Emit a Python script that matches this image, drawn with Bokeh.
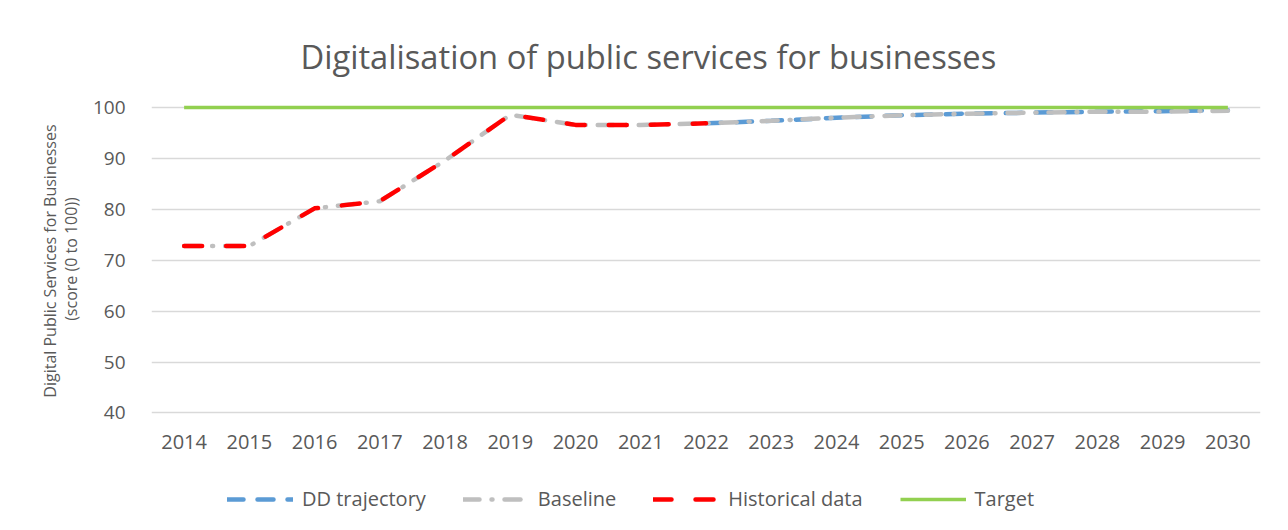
from bokeh.plotting import figure
from bokeh.models import Range1d, Legend, LegendItem, FixedTicker
from bokeh.layouts import column
from bokeh.embed import file_html
from bokeh.resources import INLINE

years = [str(y) for y in range(2014, 2031)]
hist_years = years[:9]
hist_vals = [72.8, 72.8, 80.2, 81.6, 89.6, 98.6, 96.6, 96.6, 96.9]
base_vals = hist_vals + [97.4, 98.0, 98.5, 98.8, 99.0, 99.2, 99.2, 99.4]
dd_years = years[8:]
dd_vals = [96.9, 97.4, 98.0, 98.5, 98.8, 99.0, 99.2, 99.3, 99.5]
target_vals = [100] * len(years)
series_labels = ["DD trajectory", "Baseline", "Historical data", "Target"]

FONT = "Open Sans"
TXT = "#595959"

STYLES = [
    dict(line_color="#5B9BD5", line_width=4.5, line_dash="16 14", line_cap="round"),
    dict(line_color="#BFBFBF", line_width=4.5, line_dash="16 12 1 12", line_cap="round"),
    dict(line_color="#FF0000", line_width=4.5, line_dash="18 24", line_cap="round"),
    dict(line_color="#92D050", line_width=3.5),
]

p = figure(x_range=years, y_range=Range1d(39.5, 101), frame_width=1109, frame_height=313,
           output_backend="svg", toolbar_location=None,
           min_border_left=151, min_border_right=20, min_border_top=102, min_border_bottom=60)
p.outline_line_color = None
p.background_fill_color = "white"
p.border_fill_color = "white"

p.title.text = "Digitalisation of public services for businesses"
p.title.align = "left"
p.title.offset = 149
p.title.text_font = FONT
p.title.text_font_size = "32.7px"
p.title.text_font_style = "normal"
p.title.text_color = TXT
p.title.standoff = 47

p.line(dd_years, dd_vals, **STYLES[0])
p.line(years, base_vals, **STYLES[1])
p.line(hist_years, hist_vals, **STYLES[2])
p.line(years, target_vals, **STYLES[3])

p.yaxis.ticker = FixedTicker(ticks=[40, 50, 60, 70, 80, 90, 100])
for ax in (p.xaxis[0], p.yaxis[0]):
    ax.axis_line_color = None
    ax.major_tick_line_color = None
    ax.minor_tick_line_color = None
    ax.major_label_text_font = FONT
    ax.major_label_text_color = TXT
p.xaxis.major_label_text_font_size = "20px"
p.yaxis.major_label_text_font_size = "19px"
p.yaxis.major_label_standoff = 20
p.xaxis.major_label_standoff = 13
p.yaxis.axis_label = "Digital Public Services  for Businesses\n(score (0 to 100))"
p.yaxis.axis_label_text_font = FONT
p.yaxis.axis_label_text_font_size = "16px"
p.yaxis.axis_label_text_font_style = "normal"
p.yaxis.axis_label_text_color = TXT
p.yaxis.axis_label_text_line_height = 0.95
p.yaxis.axis_label_standoff = 8

p.xgrid.grid_line_color = None
p.ygrid.grid_line_color = "#D9D9D9"
p.ygrid.grid_line_width = 1.5

# legend strip below the chart (frame aligned with the chart's frame by the column)
q = figure(x_range=Range1d(0, 1), y_range=Range1d(0, 1), width=1280, height=50,
           output_backend="svg", toolbar_location=None,
           min_border_left=0, min_border_right=0, min_border_top=0, min_border_bottom=0)
q.axis.visible = False
q.grid.visible = False
q.outline_line_color = None
q.border_fill_color = "white"
items = []
for lab, st in zip(series_labels, STYLES):
    r = q.line([float("nan")], [float("nan")], **st)
    items.append(LegendItem(label=lab, renderers=[r]))
legend = Legend(items=items, orientation="horizontal", location=(76, 13))
legend.label_text_font = FONT
legend.label_text_font_size = "20px"
legend.label_text_color = TXT
legend.glyph_width = 66
legend.spacing = 37
legend.label_standoff = 9
legend.border_line_color = None
legend.background_fill_alpha = 0
legend.margin = 0
legend.padding = 5
q.add_layout(legend, "center")

layout = column(p, q, spacing=0)
open("out.html", "w").write(file_html(layout, INLINE))
